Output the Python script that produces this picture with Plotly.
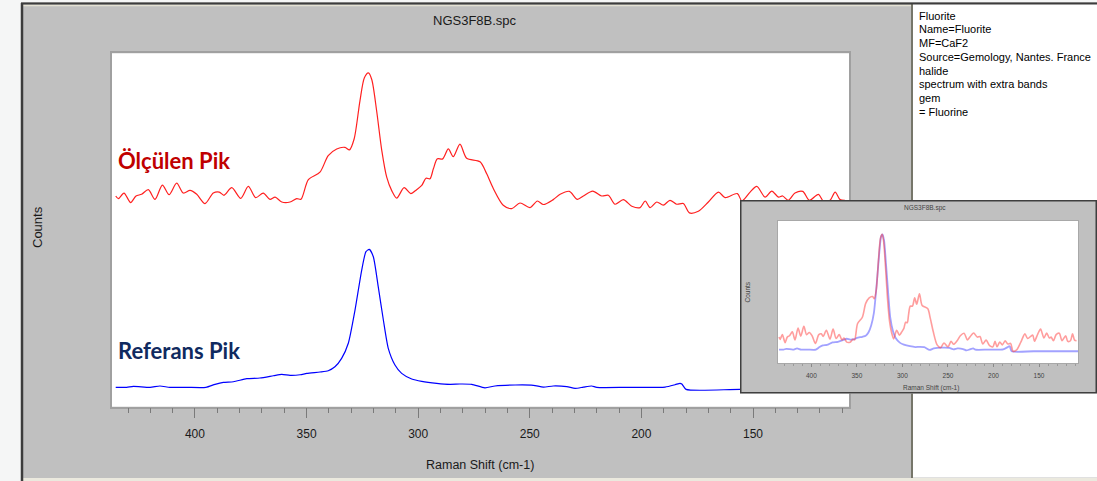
import plotly.graph_objects as go

# ---------------- data ----------------
# Measured spectrum (red), Raman shift in cm-1 and normalised intensity (0-100)
red_shift = [435.5, 434.3, 431.8, 428.8, 426.4, 423.9, 420.9, 417.9, 414.6, 411.6,
             408.2, 405.2, 402.2, 399.2, 395.5, 391.8, 389.1, 387.0, 383.5, 379.5,
             376.1, 372.8, 369.4, 366.4, 364.1, 361.1, 357.4, 354.4, 352.5, 349.2,
             344.0, 340.3, 336.5, 332.8, 330.8, 328.7, 326.1, 324.1, 322.3, 320.8,
             318.6, 316.3, 314.1, 311.9, 309.6, 306.3, 303.3, 300.7, 298.4, 296.5,
             294.7, 293.2, 291.4, 289.0, 286.5, 284.3, 281.3, 278.3, 272.3, 269.3,
             266.3, 261.9, 258.1, 254.4, 249.9, 246.6, 243.9, 239.5, 236.4, 232.3,
             228.7, 226.0, 221.8, 217.8, 214.8, 211.8, 208.1, 204.3, 200.6, 198.3,
             196.1, 193.1, 190.2, 187.2, 184.2, 181.2, 178.5, 174.5, 170.0, 165.5,
             162.5, 157.0, 155.0, 151.3, 148.3, 144.6, 141.6, 138.6, 136.7, 134.2,
             131.2, 127.7, 124.8, 120.7, 118.5, 115.5, 113.2, 111.0, 108.8]
red_int = [12.1, 10.2, 14.2, 7.4, 12.1, 13.3, 16.6, 9.7, 19.9, 13.0,
           21.3, 14.2, 16.1, 13.3, 6.7, 14.2, 14.9, 12.6, 18.0, 10.4,
           18.9, 10.9, 14.2, 9.7, 11.3, 7.8, 7.8, 10.2, 9.7, 23.7,
           29.1, 40.9, 45.7, 46.8, 45.0, 52.8, 79.9, 96.5, 100.0, 95.3,
           72.8, 44.5, 25.5, 16.1, 10.6, 18.0, 13.8, 16.6, 19.6, 24.8,
           24.4, 31.5, 38.6, 38.6, 45.7, 40.2, 49.2, 39.1, 36.5, 27.9,
           17.3, 5.5, 3.1, 7.1, 3.8, 8.5, 6.0, 9.5, 13.3, 15.4,
           9.7, 12.1, 15.6, 12.1, 12.6, 6.2, 9.5, 4.8, 3.8, 8.5,
           3.8, 7.8, 5.5, 9.0, 6.2, 6.7, 0.0, 1.2, 7.8, 14.9,
           10.9, 13.8, 8.5, 14.9, 18.9, 11.3, 15.6, 11.3, 12.1, 9.0,
           14.2, 15.4, 9.0, 13.3, 8.5, 9.0, 14.9, 9.5, 9.0]

# Reference spectrum (blue)
blue_shift = [435.5, 430.6, 427.6, 420.1, 415.7, 411.2, 403.7, 395.1, 391.0, 387.3,
              382.8, 376.8, 370.9, 364.9, 361.1, 357.4, 352.9, 349.9, 344.0, 340.3,
              337.3, 334.3, 331.3, 328.3, 325.3, 323.4, 321.9, 320.1, 317.9, 315.6,
              313.4, 310.4, 307.4, 302.9, 298.4, 291.7, 285.7, 281.3, 276.0, 270.1,
              265.6, 256.6, 248.4, 243.9, 239.5, 233.4, 229.7, 226.0, 222.3, 220.0,
              206.6, 189.4, 184.9, 182.7, 181.9, 180.0, 155.8, 107.0]
blue_int = [1.4, 1.4, 2.1, 1.4, 2.4, 1.4, 1.4, 1.4, 3.6, 5.0,
            5.4, 7.6, 8.1, 9.7, 10.7, 10.0, 10.4, 11.4, 12.4, 13.3,
            16.1, 22.1, 32.9, 56.6, 85.2, 98.3, 100.0, 94.7, 73.3, 49.5,
            29.3, 17.4, 11.4, 7.4, 5.7, 4.3, 3.6, 3.8, 3.6, 1.1,
            2.4, 3.1, 2.9, 1.6, 2.4, 1.9, 0.7, 1.6, 2.4, 1.4,
            1.4, 1.6, 3.3, 4.3, 3.8, 0.0, 0.0, 0.0]

x_ticks = [400, 350, 300, 250, 200, 150]
info_lines = ["Fluorite", "Name=Fluorite", "MF=CaF2", "Source=Gemology, Nantes. France",
              "halide", "spectrum with extra bands", "gem", "= Fluorine"]
file_name = "NGS3F8B.spc"
x_title = "Raman Shift (cm-1)"
y_title = "Counts"
label_measured = "Ölçülen Pik"
label_reference = "Referans Pik"

# ---------------- geometry helpers ----------------
W, H = 1097, 481
RED_OFFSET = 126


def px(x):
    return x / W


def py(y):
    return 1 - y / H


fig = go.Figure()

# main stacked spectra
fig.add_trace(go.Scatter(x=blue_shift, y=blue_int, mode="lines",
                         line=dict(color="#0000ff", width=1.2, shape="spline", smoothing=0.6),
                         xaxis="x", yaxis="y", hoverinfo="skip"))
fig.add_trace(go.Scatter(x=red_shift, y=[v + RED_OFFSET for v in red_int], mode="lines",
                         line=dict(color="#ff2020", width=1.2, shape="spline", smoothing=0.8),
                         xaxis="x", yaxis="y", hoverinfo="skip"))
# inset frame subplot (empty)
fig.add_trace(go.Scatter(x=[], y=[], mode="lines", xaxis="x2", yaxis="y2", hoverinfo="skip"))
# inset overlay spectra
fig.add_trace(go.Scatter(x=blue_shift, y=blue_int, mode="lines",
                         line=dict(color="rgba(70,70,255,0.5)", width=1.8, shape="spline", smoothing=0.6),
                         xaxis="x3", yaxis="y3", hoverinfo="skip"))
fig.add_trace(go.Scatter(x=red_shift, y=red_int, mode="lines",
                         line=dict(color="rgba(255,60,60,0.5)", width=1.6, shape="spline", smoothing=0.8),
                         xaxis="x3", yaxis="y3", hoverinfo="skip"))

axis_font = dict(family="Liberation Sans, Arial, sans-serif", size=12, color="#1a1a1a")
sans = "Liberation Sans, Arial, sans-serif"

shapes = [
    # light strip left / top
    dict(type="rect", xref="paper", yref="paper", x0=0, x1=px(21), y0=0, y1=1,
         fillcolor="#f5f6f6", line=dict(width=0), layer="below"),
    dict(type="rect", xref="paper", yref="paper", x0=0, x1=1, y0=py(2), y1=1,
         fillcolor="#f5f6f6", line=dict(width=0), layer="below"),
    # bottom beige strip
    dict(type="rect", xref="paper", yref="paper", x0=px(21), x1=1, y0=0, y1=py(478),
         fillcolor="#ebe9de", line=dict(width=0), layer="below"),
    # right info panel
    dict(type="rect", xref="paper", yref="paper", x0=px(912), x1=1, y0=py(477.5), y1=py(3.5),
         fillcolor="#ffffff", line=dict(width=0), layer="below"),
    dict(type="line", xref="paper", yref="paper", x0=px(912), x1=px(912), y0=py(478), y1=py(3),
         line=dict(color="#76766a", width=2), layer="below"),
    # beige strip under top border
    dict(type="line", xref="paper", yref="paper", x0=px(23), x1=px(911), y0=py(5.5), y1=py(5.5),
         line=dict(color="#e4e1d3", width=1.5), layer="below"),
    # dark window borders
    dict(type="line", xref="paper", yref="paper", x0=px(21), x1=1, y0=py(3.5), y1=py(3.5),
         line=dict(color="#3c3c3c", width=2), layer="below"),
    dict(type="line", xref="paper", yref="paper", x0=px(22), x1=px(22), y0=0, y1=py(3),
         line=dict(color="#3c3c3c", width=2.5), layer="below"),
    # inset frame (drawn in its own subplot so it covers the main traces)
    dict(type="rect", xref="x2", yref="y2", x0=0, x1=1, y0=0, y1=1,
         fillcolor="#c0c0c0", line=dict(color="#3f3f3f", width=3), layer="below"),
]


def ann(text, x, y, size, color, xanchor="center", angle=0, family=sans, weight="normal"):
    return dict(text=text, x=px(x), y=py(y), xref="paper", yref="paper", showarrow=False,
                xanchor=xanchor, yanchor="middle", textangle=angle,
                font=dict(family=family, size=size, color=color, weight=weight))


annotations = [
    ann(file_name, 475, 20, 13, "#1a1a1a"),
    ann(y_title, 37, 227, 13, "#1a1a1a", angle=-90),
    ann(x_title, 480, 465, 12.5, "#1a1a1a"),
    ann(label_measured, 116, 160, 22, "#c00000", xanchor="left", family="Lato, Carlito, sans-serif", weight="bold"),
    ann(label_reference, 116, 350, 22, "#102a60", xanchor="left", family="Lato, Carlito, sans-serif", weight="bold"),
    # inset texts
    ann(file_name, 925, 208, 6.5, "#444444"),
    ann(y_title, 746.5, 292, 6.5, "#444444", angle=-90),
    ann(x_title, 931, 388, 6.5, "#444444"),
]

for i, line in enumerate(info_lines):
    annotations.append(ann(line, 917, 15.5 + i * 13.8, 11, "#000000", xanchor="left"))

fig.update_layout(
    width=W, height=H, margin=dict(l=0, r=0, t=0, b=0),
    paper_bgcolor="#c0c0c0", plot_bgcolor="#ffffff",
    showlegend=False,
    shapes=shapes, annotations=annotations,
    xaxis=dict(domain=[px(111.7), px(849)], range=[437.3, 107], anchor="y",
               tickvals=x_ticks, ticks="outside", ticklen=10, tickwidth=1, tickcolor="#7a7a7a",
               minor=dict(dtick=10, tick0=0, ticks="outside", ticklen=5, tickwidth=1, tickcolor="#7a7a7a"),
               showline=True, linecolor="#a0a0a0", linewidth=1.5, mirror=True,
               showgrid=False, zeroline=False, tickfont=axis_font, ticklabelstandoff=5),
    yaxis=dict(domain=[py(406.7), py(53.3)], range=[-12.4, 240], anchor="x",
               showticklabels=False, ticks="", showgrid=False, zeroline=False,
               showline=True, linecolor="#a0a0a0", linewidth=1.5, mirror=True),
    xaxis2=dict(domain=[px(740), 1.0], range=[0, 1], anchor="y2", visible=False),
    yaxis2=dict(domain=[py(393.5), py(200)], range=[0, 1], anchor="x2", visible=False),
    xaxis3=dict(domain=[px(778), px(1078)], range=[436.6, 107.2], anchor="y3",
                tickvals=x_ticks, ticks="outside", ticklen=3, tickwidth=1, tickcolor="#8a8a8a",
                minor=dict(dtick=10, tick0=0, ticks="outside", ticklen=2, tickwidth=1, tickcolor="#9a9a9a"),
                showline=True, linecolor="#a8a8a8", linewidth=1, mirror=True,
                showgrid=False, zeroline=False,
                tickfont=dict(family=sans, size=6.5, color="#444444"),
                ticklabelstandoff=3),
    yaxis3=dict(domain=[py(363.3), py(221)], range=[-10.3, 111.4], anchor="x3",
                showticklabels=False, ticks="", showgrid=False, zeroline=False,
                showline=True, linecolor="#a8a8a8", linewidth=1, mirror=True),
)

fig.write_html("out.html", config=dict(displayModeBar=False),
               post_script="document.body.style.margin='0';document.body.style.padding='0';"
                           "document.documentElement.style.overflow='hidden';")
